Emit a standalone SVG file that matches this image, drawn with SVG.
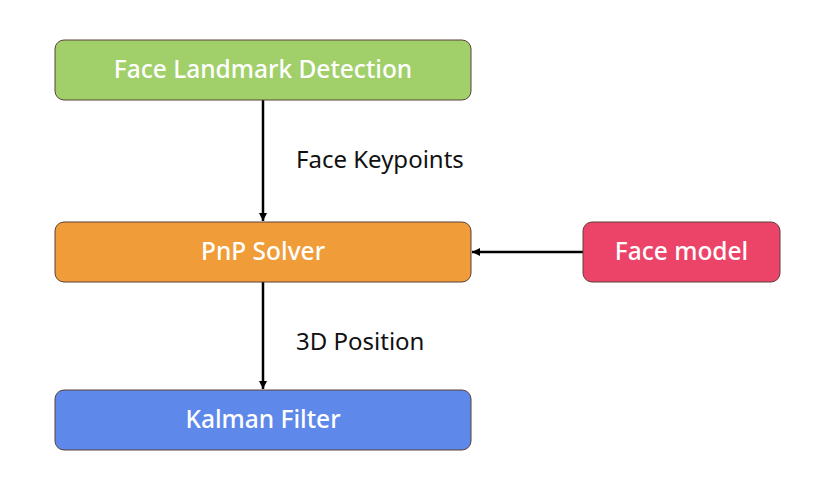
<svg xmlns="http://www.w3.org/2000/svg" width="826" height="478" viewBox="0 0 826 478">
<defs>
<marker id="ah" markerWidth="10" markerHeight="10" refX="8" refY="5" orient="auto" markerUnits="userSpaceOnUse">
<path d="M0,1 L8,5 L0,9 Z" fill="#000"/>
</marker>
<style>
.box{stroke:#5a4038;stroke-width:1}
.nt{font-family:"Noto Sans","DejaVu Sans",sans-serif;font-size:24.5px;font-weight:500;fill:#fff;text-anchor:middle}
.lt{font-family:"Noto Sans","DejaVu Sans",sans-serif;font-size:24px;fill:#111}
.cn{stroke:#000;stroke-width:2.5;fill:none}
</style>
</defs>
<rect width="826" height="478" fill="#fff"/>
<g id="connectors">
<line class="cn" x1="263" y1="100" x2="263" y2="221" marker-end="url(#ah)"/>
<line class="cn" x1="263" y1="282" x2="263" y2="389" marker-end="url(#ah)"/>
<line class="cn" x1="583" y1="252" x2="472" y2="252" marker-end="url(#ah)"/>
<text class="lt" x="296" y="168">Face Keypoints</text>
<text class="lt" x="296" y="350">3D Position</text>
</g>
<g id="face-landmark">
<rect class="box" x="55" y="40" width="416" height="60" rx="9" fill="#a1d06a"/>
<text class="nt" x="263" y="78">Face Landmark Detection</text>
</g>
<g id="pnp">
<rect class="box" x="55" y="222" width="416" height="60" rx="9" fill="#f09c38"/>
<text class="nt" x="263" y="260">PnP Solver</text>
</g>
<g id="face-model">
<rect class="box" x="583" y="222" width="197" height="60" rx="9" fill="#ec4468"/>
<text class="nt" x="681.5" y="260">Face model</text>
</g>
<g id="kalman">
<rect class="box" x="55" y="390" width="416" height="60" rx="9" fill="#5e89ea"/>
<text class="nt" x="263" y="428">Kalman Filter</text>
</g>
</svg>
